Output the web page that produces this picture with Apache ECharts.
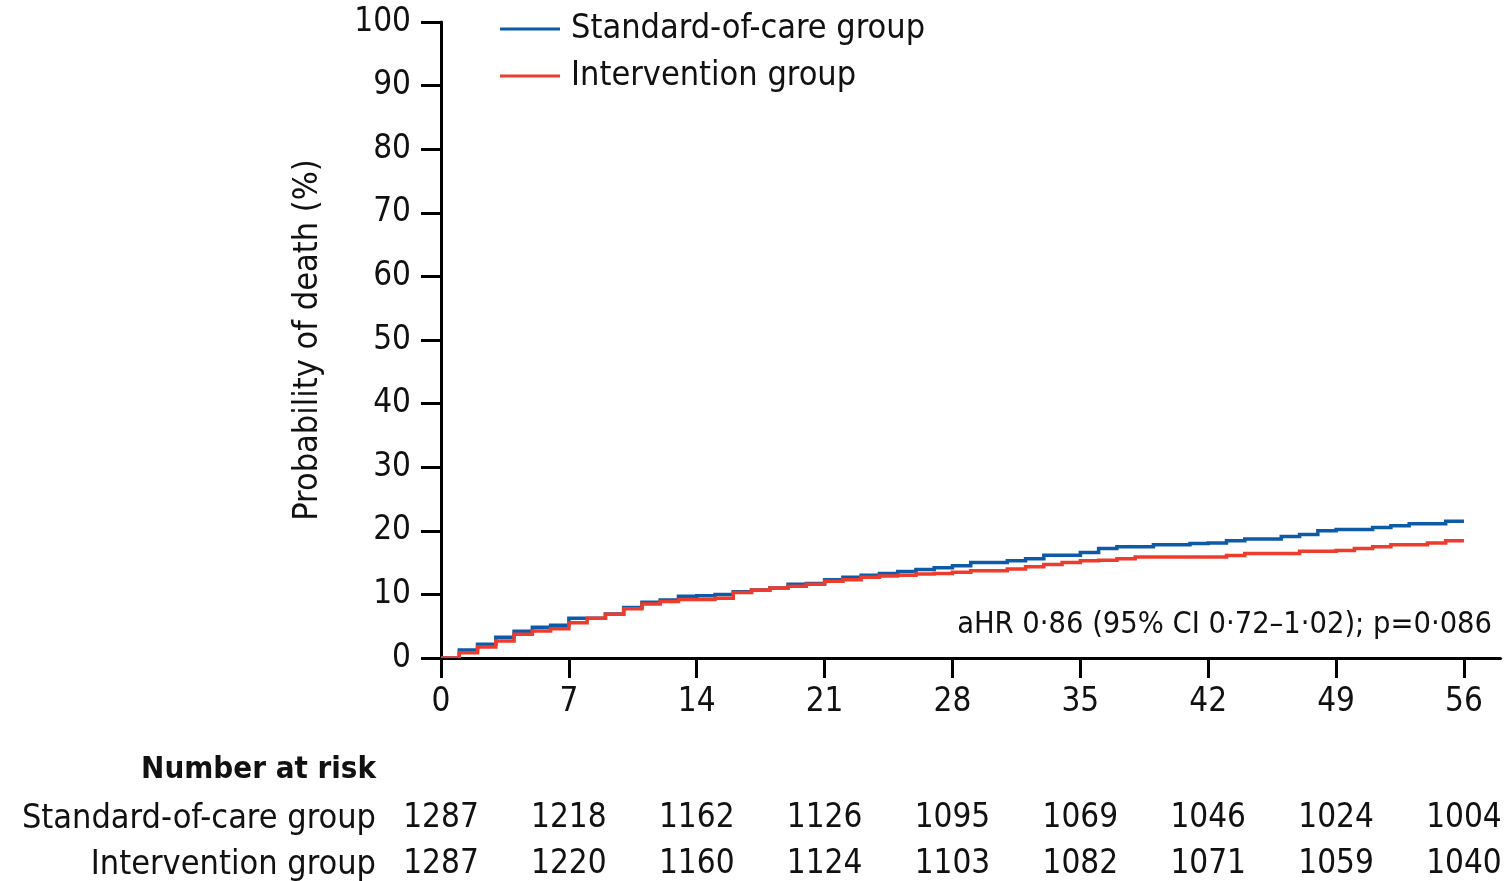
<!DOCTYPE html>
<html>
<head>
<meta charset="utf-8">
<script src="https://cdn.jsdelivr.net/npm/echarts@6/dist/echarts.min.js"></script>
<style>
html,body{margin:0;padding:0;background:#fff;}
#chart{width:1509px;height:881px;}
</style>
</head>
<body>
<div id="chart"></div>
<script>
// Days (step starts) 0..56
var days = [];
for (var i = 0; i <= 56; i++) days.push(i);

// Probability of death (%) for Standard-of-care group, value holding from day d
var socValues = [0, 1.26, 2.15, 3.25, 4.19, 4.83, 5.14, 6.24, 6.24, 6.9,
  7.95, 8.75, 9.1, 9.7, 9.8, 10.0, 10.4, 10.7, 11.0, 11.6,
  11.7, 12.3, 12.7, 13.0, 13.3, 13.6, 13.9, 14.2, 14.5, 15.0,
  15.0, 15.3, 15.6, 16.15, 16.15, 16.6, 17.2, 17.5, 17.5, 17.8,
  17.8, 18.0, 18.1, 18.45, 18.7, 18.7, 19.1, 19.4, 20.0, 20.2,
  20.2, 20.5, 20.8, 21.1, 21.1, 21.5, 21.5];

// Probability of death (%) for Intervention group
var intValues = [0, 0.84, 1.73, 2.67, 3.72, 4.25, 4.61, 5.56, 6.24, 6.87,
  7.75, 8.49, 8.9, 9.2, 9.2, 9.4, 10.3, 10.7, 11.0, 11.3,
  11.6, 12.05, 12.3, 12.7, 12.9, 13.0, 13.2, 13.3, 13.5, 13.7,
  13.7, 14.0, 14.35, 14.7, 15.0, 15.3, 15.35, 15.6, 15.9, 15.9,
  15.9, 15.9, 15.9, 16.1, 16.45, 16.45, 16.45, 16.8, 16.8, 16.9,
  17.2, 17.5, 17.8, 17.8, 18.1, 18.45, 18.45];

var xTicks = [0, 7, 14, 21, 28, 35, 42, 49, 56];
var yTicks = [0, 10, 20, 30, 40, 50, 60, 70, 80, 90, 100];
var riskSoc = [1287, 1218, 1162, 1126, 1095, 1069, 1046, 1024, 1004];
var riskInt = [1287, 1220, 1160, 1124, 1103, 1082, 1071, 1059, 1040];

var seriesNames = ['Standard-of-care group', 'Intervention group'];
var annotation = 'aHR 0·86 (95% CI 0·72–1·02); p=0·086';
var riskTitle = 'Number at risk';

var FONT = '"Liberation Sans Narrow", "DejaVu Sans Condensed", "Noto Sans", sans-serif';
var BLUE = '#0d5aa7';
var RED = '#ef3b2c';
var INK = '#111111';

function pairs(vals) {
  return days.map(function (d, i) { return [d, vals[i]]; });
}
function riskFormatter(arr) {
  return function (v) {
    var idx = xTicks.indexOf(v);
    return idx >= 0 ? String(arr[idx]) : '';
  };
}
function tickFormatter(v) {
  return xTicks.indexOf(v) >= 0 ? String(v) : '';
}

// Kaplan-Meier step curve drawn as one polyline through the library's coordinate system
function stepRenderer(vals, color) {
  return function (params, api) {
    if (params.dataIndex !== 0) return null;
    var pts = [];
    for (var k = 0; k < days.length; k++) {
      pts.push(api.coord([days[k], vals[k]]));
      if (k < days.length - 1) pts.push(api.coord([days[k + 1], vals[k]]));
    }
    return {
      type: 'polyline',
      shape: {points: pts},
      style: {stroke: color, lineWidth: 3.5, fill: null, lineJoin: 'miter'},
      silent: true
    };
  };
}

var chart = echarts.init(document.getElementById('chart'), null, {renderer: 'canvas'});

function riskAxis(arr, offset) {
  return {
    type: 'value', gridIndex: 0, position: 'bottom', offset: offset,
    min: 0, max: 58, interval: 7,
    axisLine: {show: false}, axisTick: {show: false}, splitLine: {show: false},
    axisLabel: {
      show: true, margin: 8, formatter: riskFormatter(arr),
      customValues: xTicks,
      fontFamily: FONT, fontSize: 33, color: INK
    }
  };
}

var option = {
  animation: false,
  backgroundColor: '#ffffff',
  grid: {left: 441, right: 8.5, top: 22, bottom: 223, containLabel: false},
  legend: {
    orient: 'vertical', left: 500, top: 11, padding: 0,
    itemWidth: 60, itemHeight: 3, itemGap: 11, icon: 'rect',
    textStyle: {fontFamily: FONT, fontSize: 34, color: INK, lineHeight: 36, padding: [0, 0, 0, 6]},
    data: [
      {name: seriesNames[0], itemStyle: {color: BLUE}},
      {name: seriesNames[1], itemStyle: {color: RED}}
    ]
  },
  xAxis: [{
    type: 'value', min: 0, max: 58, interval: 7,
    axisLine: {show: true, lineStyle: {color: '#000', width: 3}},
    axisTick: {show: true, inside: false, length: 20, lineStyle: {color: '#000', width: 3}, customValues: xTicks},
    axisLabel: {margin: 28, fontFamily: FONT, fontSize: 33, color: INK, formatter: tickFormatter, customValues: xTicks},
    splitLine: {show: false}
  },
  riskAxis(riskSoc, 136),
  riskAxis(riskInt, 182)
  ],
  yAxis: {
    type: 'value', min: 0, max: 100, interval: 10,
    name: 'Probability of death (%)', nameLocation: 'middle', nameGap: 116,
    nameTextStyle: {fontFamily: FONT, fontSize: 34, color: INK},
    axisLine: {show: true, lineStyle: {color: '#000', width: 3}},
    axisTick: {show: true, inside: false, length: 20, lineStyle: {color: '#000', width: 3}},
    axisLabel: {margin: 30, fontFamily: FONT, fontSize: 33, color: INK},
    splitLine: {show: false}
  },
  graphic: [
    {type: 'text', right: 17, top: 610, style: {text: annotation, font: '30.5px ' + FONT, fill: INK}},
    {type: 'text', right: 1509 - 376, top: 754, style: {text: riskTitle, font: 'bold 31px ' + FONT, fill: INK, textAlign: 'right'}},
    {type: 'text', right: 1509 - 376, top: 802, style: {text: seriesNames[0], font: '34px ' + FONT, fill: INK, textAlign: 'right'}},
    {type: 'text', right: 1509 - 376, top: 848, style: {text: seriesNames[1], font: '34px ' + FONT, fill: INK, textAlign: 'right'}}
  ],
  series: [
    {
      name: seriesNames[0], type: 'custom', xAxisIndex: 0, yAxisIndex: 0,
      data: pairs(socValues), encode: {x: 0, y: 1},
      renderItem: stepRenderer(socValues, BLUE),
      itemStyle: {color: BLUE}, z: 2, clip: true
    },
    {
      name: seriesNames[1], type: 'custom', xAxisIndex: 0, yAxisIndex: 0,
      data: pairs(intValues), encode: {x: 0, y: 1},
      renderItem: stepRenderer(intValues, RED),
      itemStyle: {color: RED}, z: 3, clip: true
    }
  ]
};
chart.setOption(option);
</script>
</body>
</html>
